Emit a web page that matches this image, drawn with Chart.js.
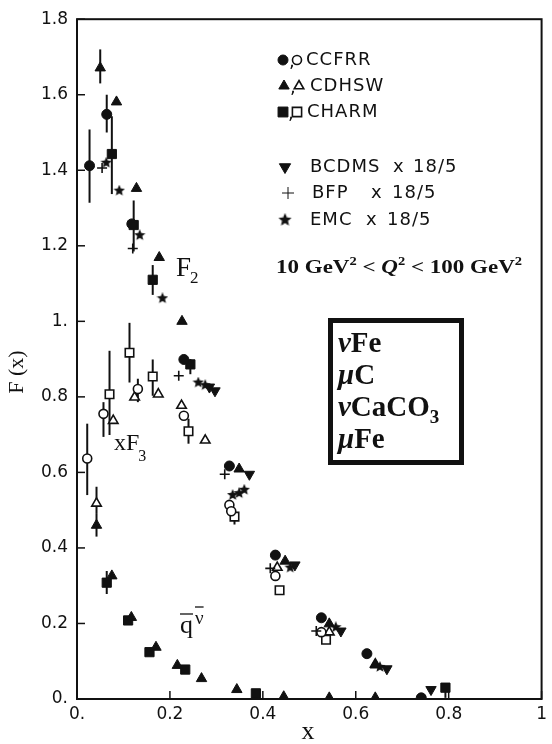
<!DOCTYPE html>
<html>
<head>
<meta charset="utf-8">
<script src="https://cdn.jsdelivr.net/npm/chart.js@4.4.0/dist/chart.umd.min.js"></script>
<style>
    html, body { margin: 0; padding: 0; background: #fff; }
    #wrap { width: 552px; height: 744px; }
</style>
</head>
<body>
<div id="wrap"><canvas id="chart" width="552" height="744"></canvas></div>
<script>
// tick labels
const xTickLabels = ['0.', '0.2', '0.4', '0.6', '0.8', '1'];
const yTickLabels = ['0.', '0.2', '0.4', '0.6', '0.8', '1.', '1.2', '1.4', '1.6', '1.8'];

// F2 (filled symbols)
const ccfrrF2X = [0.027, 0.064, 0.118, 0.230, 0.328, 0.427, 0.526, 0.624, 0.741];
const ccfrrF2Y = [1.412, 1.548, 1.258, 0.899, 0.617, 0.381, 0.215, 0.120, 0.003];
const ccfrrF2Err = [[1.314, 1.508], [1.50, 1.60], null, null, null, null, null, null, null];

const cdhswF2X = [0.050, 0.085, 0.128, 0.177, 0.226, 0.349, 0.448, 0.543, 0.642];
const cdhswF2Y = [1.671, 1.581, 1.352, 1.169, 1.000, 0.609, 0.365, 0.199, 0.090];
const cdhswF2Err = [[1.63, 1.72], null, null, null, null, null, null, null, null];

const charmF2X = [0.075, 0.122, 0.163, 0.244, 0.793];
const charmF2Y = [1.443, 1.255, 1.110, 0.886, 0.030];
const charmF2Err = [[1.337, 1.543], [1.185, 1.32], [1.070, 1.149], [0.86, 0.90], [0.003, 0.03]];

// muon data x 18/5
const bcdmsX = [0.285, 0.297, 0.371, 0.469, 0.568, 0.667, 0.762];
const bcdmsY = [0.826, 0.816, 0.595, 0.355, 0.180, 0.080, 0.025];

const bfpX = [0.054, 0.120, 0.219, 0.318, 0.416, 0.515];
const bfpY = [1.406, 1.193, 0.856, 0.595, 0.346, 0.180];

const emcX = [0.063, 0.091, 0.135, 0.184, 0.261, 0.276, 0.335, 0.349, 0.360, 0.459, 0.557, 0.652];
const emcY = [1.420, 1.346, 1.228, 1.061, 0.838, 0.831, 0.540, 0.545, 0.554, 0.348, 0.190, 0.085];

// xF3 (open symbols)
const ccfrrF3X = [0.022, 0.057, 0.131, 0.230, 0.328, 0.332, 0.427, 0.526];
const ccfrrF3Y = [0.637, 0.755, 0.821, 0.750, 0.514, 0.497, 0.326, 0.177];
const ccfrrF3Err = [[0.540, 0.729], [0.694, 0.786], [0.786, 0.848], null, null, null, null, null];

const cdhswF3X = [0.042, 0.078, 0.124, 0.175, 0.225, 0.276, 0.431, 0.543, 0.642];
const cdhswF3Y = [0.518, 0.737, 0.799, 0.807, 0.777, 0.685, 0.348, 0.177, 0.092];
const cdhswF3Err = [[0.49, 0.562], null, null, null, null, null, null, null, null];

const charmF3X = [0.070, 0.113, 0.163, 0.240, 0.339, 0.436, 0.536];
const charmF3Y = [0.807, 0.917, 0.854, 0.709, 0.483, 0.288, 0.157];
const charmF3Err = [[0.699, 0.922], [0.838, 0.996], [0.803, 0.899], [0.676, 0.742], [0.462, 0.497], null, null];

// antiquark (filled symbols)
const cdhswQbarX = [0.042, 0.075, 0.117, 0.170, 0.216, 0.268, 0.344, 0.445, 0.543, 0.642];
const cdhswQbarY = [0.460, 0.326, 0.216, 0.137, 0.089, 0.054, 0.025, 0.006, 0.003, 0.003];
const cdhswQbarErr = [[0.43, 0.49], null, null, null, null, null, null, null, null, null];

const charmQbarX = [0.064, 0.110, 0.156, 0.233, 0.385];
const charmQbarY = [0.308, 0.208, 0.124, 0.078, 0.015];
const charmQbarErr = [[0.278, 0.339], null, null, null, null];

function pts(xs, ys) {
    return xs.map((x, i) => ({ x: x, y: ys[i] }));
}

function makeStar(size) {
    const c = document.createElement('canvas');
    c.width = c.height = size;
    const g = c.getContext('2d');
    g.fillStyle = '#111';
    g.beginPath();
    for (let i = 0; i < 10; i++) {
        const r = i % 2 ? size * 0.22 : size * 0.5;
        const a = -Math.PI / 2 + i * Math.PI / 5;
        g.lineTo(size / 2 + r * Math.cos(a), size / 2 + r * Math.sin(a));
    }
    g.closePath();
    g.fill();
    return c;
}
const starImg = makeStar(12);

const INK = '#111';
const filled = { backgroundColor: INK, borderColor: INK, borderWidth: 1 };
const open = { backgroundColor: '#fff', borderColor: INK, borderWidth: 1.6 };

function ds(label, xs, ys, errs, style, radius, look, extra) {
    return Object.assign({
        label: label,
        data: pts(xs, ys),
        errs: errs || null,
        pointStyle: style,
        pointRadius: radius,
        showLine: false
    }, look, extra || {});
}

const datasets = [
    ds('CCFRR F2', ccfrrF2X, ccfrrF2Y, ccfrrF2Err, 'circle', 5, filled),
    ds('CDHSW F2', cdhswF2X, cdhswF2Y, cdhswF2Err, 'triangle', 6, filled),
    ds('CHARM F2', charmF2X, charmF2Y, charmF2Err, 'rect', 6.5, filled),
    ds('BCDMS', bcdmsX, bcdmsY, null, 'triangle', 6, filled, { rotation: 180 }),
    ds('BFP', bfpX, bfpY, null, 'cross', 5, { borderColor: INK, borderWidth: 1.6 }),
    ds('EMC', emcX, emcY, null, starImg, 6, {}),
    ds('CCFRR xF3', ccfrrF3X, ccfrrF3Y, ccfrrF3Err, 'circle', 4.5, open),
    ds('CDHSW xF3', cdhswF3X, cdhswF3Y, cdhswF3Err, 'triangle', 5.5, open),
    ds('CHARM xF3', charmF3X, charmF3Y, charmF3Err, 'rect', 6, open),
    ds('CDHSW qbar', cdhswQbarX, cdhswQbarY, cdhswQbarErr, 'triangle', 6, filled),
    ds('CHARM qbar', charmQbarX, charmQbarY, charmQbarErr, 'rect', 6.5, filled)
];

function marker(ctx, style, x, y, isFilled, r, rot) {
    ctx.save();
    ctx.fillStyle = isFilled ? INK : '#fff';
    ctx.strokeStyle = INK;
    ctx.lineWidth = isFilled ? 1 : 1.6;
    Chart.helpers.drawPoint(ctx, { pointStyle: style, radius: r, rotation: rot || 0, borderWidth: ctx.lineWidth }, x, y);
    ctx.restore();
}

function text(ctx, str, x, y, font, align) {
    ctx.font = font;
    ctx.textAlign = align || 'left';
    ctx.fillText(str, x, y);
    return ctx.measureText(str).width;
}

const decor = {
    id: 'decor',
    beforeDatasetsDraw(chart) {
        const ctx = chart.ctx;
        const xs = chart.scales.x, ys = chart.scales.y;
        ctx.save();
        ctx.strokeStyle = INK;
        ctx.lineWidth = 2;
        chart.data.datasets.forEach(d => {
            if (!d.errs) return;
            d.data.forEach((p, i) => {
                const e = d.errs[i];
                if (!e) return;
                const px = xs.getPixelForValue(p.x);
                ctx.beginPath();
                ctx.moveTo(px, ys.getPixelForValue(e[0]));
                ctx.lineTo(px, ys.getPixelForValue(e[1]));
                ctx.stroke();
            });
        });
        ctx.restore();
    },
    afterDraw(chart) {
        const ctx = chart.ctx;
        const a = chart.chartArea;
        const xs = chart.scales.x, ys = chart.scales.y;
        ctx.save();
        ctx.strokeStyle = INK;
        ctx.fillStyle = INK;

        // frame
        ctx.lineWidth = 2;
        ctx.strokeRect(a.left, a.top, a.right - a.left, a.bottom - a.top);

        // inward ticks
        ctx.lineWidth = 1.5;
        ys.ticks.forEach(t => {
            const py = ys.getPixelForValue(t.value);
            ctx.beginPath(); ctx.moveTo(a.left, py); ctx.lineTo(a.left + 8, py); ctx.stroke();
        });
        xs.ticks.forEach(t => {
            const px = xs.getPixelForValue(t.value);
            ctx.beginPath(); ctx.moveTo(px, a.bottom); ctx.lineTo(px, a.bottom - 8); ctx.stroke();
        });

        // legend
        ctx.textBaseline = 'middle';
        ctx.letterSpacing = '1px';
        const lf = '18px "DejaVu Sans"';
        marker(ctx, 'circle', 283, 60, true, 5);
        text(ctx, ',', 289, 62, lf);
        marker(ctx, 'circle', 297, 60, false, 4.5);
        text(ctx, 'CCFRR', 306, 60, lf);

        marker(ctx, 'triangle', 284, 86, true, 6);
        text(ctx, ',', 290, 88, lf);
        marker(ctx, 'triangle', 299, 86, false, 5.5);
        text(ctx, 'CDHSW', 310, 86, lf);

        marker(ctx, 'rect', 283, 112, true, 7);
        text(ctx, ',', 288, 114, lf);
        marker(ctx, 'rect', 297, 112, false, 6.5);
        text(ctx, 'CHARM', 307, 112, lf);

        marker(ctx, 'triangle', 285, 167, true, 6.5, 180);
        text(ctx, 'BCDMS', 310, 167, lf);
        text(ctx, 'x', 393, 167, lf);
        text(ctx, '18/5', 413, 167, lf);

        marker(ctx, 'cross', 288, 193, true, 6);
        text(ctx, 'BFP', 312, 193, lf);
        text(ctx, 'x', 371, 193, lf);
        text(ctx, '18/5', 392, 193, lf);

        ctx.drawImage(starImg, 285 - 7, 220 - 7, 14, 14);
        text(ctx, 'EMC', 310, 220, lf);
        text(ctx, 'x', 366, 220, lf);
        text(ctx, '18/5', 387, 220, lf);
        ctx.letterSpacing = '0px';

        // Q^2 range, scaled to its width in the figure
        ctx.textBaseline = 'alphabetic';
        const qParts = [
            ['10 GeV', 'bold 19px "Liberation Serif"', 0],
            ['2', 'bold 12px "Liberation Serif"', -8],
            [' < ', 'bold 19px "Liberation Serif"', 0],
            ['Q', 'bold italic 19px "Liberation Serif"', 0],
            ['2', 'bold 12px "Liberation Serif"', -8],
            [' < 100 GeV', 'bold 19px "Liberation Serif"', 0],
            ['2', 'bold 12px "Liberation Serif"', -8]
        ];
        let qw = 0;
        qParts.forEach(p => { ctx.font = p[1]; qw += ctx.measureText(p[0]).width; });
        ctx.save();
        ctx.translate(276, 273);
        ctx.scale(246 / qw, 1);
        let qx = 0;
        qParts.forEach(p => { qx += text(ctx, p[0], qx, p[2], p[1]); });
        ctx.restore();

        // target box
        ctx.lineWidth = 5;
        ctx.strokeRect(330.5, 320.5, 131, 142);
        const bf = 'bold 29px "Liberation Serif"';
        const bi = 'bold italic 29px "Liberation Serif"';
        let w = text(ctx, 'ν', 338, 352, bi);
        text(ctx, 'Fe', 338 + w, 352, bf);
        w = text(ctx, 'μ', 338, 384, bi);
        text(ctx, 'C', 338 + w, 384, bf);
        w = text(ctx, 'ν', 338, 416, bi);
        w += text(ctx, 'CaCO', 338 + w, 416, bf);
        text(ctx, '3', 338 + w, 423, 'bold 19px "Liberation Serif"');
        w = text(ctx, 'μ', 338, 448, bi);
        text(ctx, 'Fe', 338 + w, 448, bf);

        // curve labels
        w = text(ctx, 'F', 176, 276, '27px "Liberation Serif"');
        text(ctx, '2', 176 + w - 1, 283, '17px "Liberation Serif"');

        w = text(ctx, 'xF', 114, 450, '24px "Liberation Serif"');
        text(ctx, '3', 114 + w - 1, 461, '16px "Liberation Serif"');

        w = text(ctx, 'q', 180, 633, '26px "Liberation Serif"');
        ctx.lineWidth = 1.3;
        ctx.beginPath(); ctx.moveTo(180, 614); ctx.lineTo(180 + w, 614); ctx.stroke();
        const nw = text(ctx, 'ν', 195, 624, '19px "Liberation Serif"');
        ctx.beginPath(); ctx.moveTo(195, 607); ctx.lineTo(195 + nw, 607); ctx.stroke();

        // axis titles
        text(ctx, 'x', 308, 739, '26px "Liberation Serif"', 'center');
        ctx.save();
        ctx.translate(23, 372);
        ctx.rotate(-Math.PI / 2);
        text(ctx, 'F (x)', 0, 0, '22px "Liberation Serif"', 'center');
        ctx.restore();

        ctx.restore();
    }
};

new Chart(document.getElementById('chart'), {
    type: 'scatter',
    data: { datasets: datasets },
    options: {
        responsive: false,
        animation: false,
        devicePixelRatio: 1,
        layout: { padding: { top: 14, right: 5, left: 0, bottom: 0 } },
        plugins: { legend: { display: false }, tooltip: { enabled: false } },
        scales: {
            x: {
                type: 'linear', min: 0, max: 1,
                grid: { display: false, drawTicks: false },
                border: { display: false },
                ticks: {
                    stepSize: 0.2, padding: 5, color: INK,
                    font: { family: 'DejaVu Sans', size: 17 },
                    callback: v => xTickLabels[Math.round(v / 0.2)]
                },
                afterFit: s => { s.height = 45; }
            },
            y: {
                type: 'linear', min: 0, max: 1.8,
                grid: { display: false, drawTicks: false },
                border: { display: false },
                ticks: {
                    stepSize: 0.2, padding: 9, color: INK,
                    font: { family: 'DejaVu Sans', size: 17 },
                    callback: v => yTickLabels[Math.round(v / 0.2)]
                },
                afterFit: s => { s.width = 77; }
            }
        }
    },
    plugins: [decor]
});
</script>
</body>
</html>
